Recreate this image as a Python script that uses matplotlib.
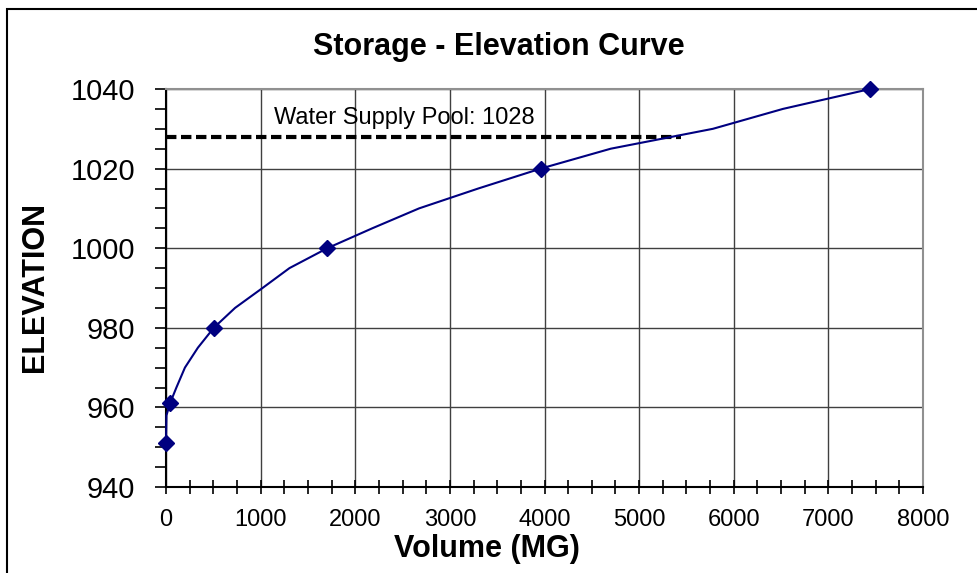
import matplotlib
matplotlib.use("Agg")
import matplotlib.pyplot as plt
from matplotlib.ticker import MultipleLocator
from matplotlib.patches import Rectangle

plt.rcParams['font.family'] = ['Liberation Sans', 'DejaVu Sans']

# storage-elevation table (volume in MG, elevation in ft)
curve_volume = [0, 5, 42, 110, 200, 337, 505, 730, 1020, 1305, 1705, 2180, 2674,
                3300, 3960, 4700, 5780, 6520, 7442]
curve_elev = [951, 958, 961, 965, 970, 975, 980, 985, 990, 995, 1000, 1005, 1010,
              1015, 1020, 1025, 1030, 1035, 1040]

# marked points
marker_volume = [0, 42, 505, 1705, 3960, 7442]
marker_elev = [951, 961, 980, 1000, 1020, 1040]

pool_elev = 1028
pool_end_volume = 5440
pool_label = "Water Supply Pool: 1028"

fig = plt.figure(figsize=(9.77, 5.73), dpi=100)
ax = fig.add_axes([166 / 977, 1 - 487 / 573, (923 - 166) / 977, (487 - 89) / 573])

ax.plot(curve_volume, curve_elev, color='#000080', lw=1.5, zorder=3, clip_on=False)
ax.plot(marker_volume, marker_elev, ls='none', marker='D', ms=8,
        color='#000080', zorder=4, clip_on=False)
ax.plot([0, pool_end_volume], [pool_elev, pool_elev], color='black', lw=3,
        ls=(0, (2.5, 1.1)), zorder=2)
ax.text(1137, pool_elev + 2.0, pool_label, fontsize=17, ha='left', va='bottom')

ax.set_xlim(0, 8000)
ax.set_ylim(940, 1040)
ax.xaxis.set_major_locator(MultipleLocator(1000))
ax.xaxis.set_minor_locator(MultipleLocator(250))
ax.yaxis.set_major_locator(MultipleLocator(20))
ax.yaxis.set_minor_locator(MultipleLocator(5))

ax.grid(True, which='major', color='#404040', lw=1)
ax.set_axisbelow(True)

ax.tick_params(axis='y', which='both', direction='out', length=8, width=1.2,
               labelsize=21, pad=14)
ax.tick_params(axis='x', which='both', direction='inout', length=10, width=1.2,
               labelsize=17, pad=11)

for side in ['top', 'right']:
    ax.spines[side].set_color('#909090')
    ax.spines[side].set_linewidth(1.5)
for side in ['left', 'bottom']:
    ax.spines[side].set_color('black')
    ax.spines[side].set_linewidth(1.5)

fig.text(499 / 977, 1 - 47 / 573, "Storage - Elevation Curve", fontsize=22,
         fontweight='bold', ha='center', va='center')
fig.text(35 / 977, 1 - 287 / 573, "ELEVATION", fontsize=22, fontweight='bold',
         rotation=90, ha='center', va='center')
fig.text(487 / 977, 1 - 549 / 573, "Volume (MG)", fontsize=22, fontweight='bold',
         ha='center', va='center')

# outer chart border
fig.patches.append(Rectangle((7 / 977, -0.1), 1.2, 1.1 - 9 / 573,
                             transform=fig.transFigure, fill=False,
                             edgecolor='black', lw=1.5))

fig.savefig("out.png", dpi=100)
